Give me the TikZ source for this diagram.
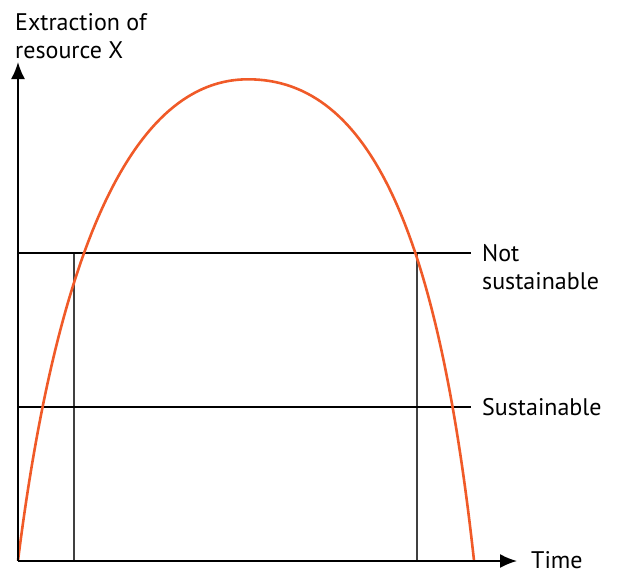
\documentclass[tikz,border=0pt]{standalone}
\usepackage{fontspec}
\setmainfont{PT Sans}
\usepackage{tikz}
\usetikzlibrary{arrows.meta}
\definecolor{curveorange}{RGB}{240,90,40}
\tikzset{axis/.style={line width=1.8pt, -{Latex[length=17pt, width=14pt]}}}
\tikzset{level/.style={line width=1.6pt}}
\tikzset{drop/.style={line width=1.2pt, black!75}}
\tikzset{lbl/.style={font=\fontsize{24}{27.3}\selectfont, inner sep=0pt, align=left}}
\tikzset{demand/.style={line width=2.6pt, curveorange}}

\begin{document}
\begin{tikzpicture}[x=1pt, y=-1pt]
    \useasboundingbox (0,0) rectangle (618,570);

    \coordinate (O) at (18,561);
    \coordinate (ytop) at (18,62);
    \coordinate (xend) at (517,561);

    \coordinate (ns0) at (18,253);
    \coordinate (nsE) at (471,253);
    \coordinate (s0) at (18,407);
    \coordinate (sE) at (471,407);

    \coordinate (dropLt) at (74,253);
    \coordinate (dropLb) at (74,561);
    \coordinate (dropRt) at (417,253);
    \coordinate (dropRb) at (417,561);

    \coordinate (peak) at (248,79.3);
    \coordinate (end) at (474,560.5);

    \node [lbl, anchor = north west] (ylab) at (15,13.7) {Extraction of\\resource X};
    \node [lbl, anchor = base west] (xlab) at (531,568.5) {Time};
    \node [lbl, anchor = north west] (nslab) at (482,244.5) {Not\\sustainable};
    \node [lbl, anchor = base west] (slab) at (482,415) {Sustainable};

    \draw [drop] (dropLt) -- (dropLb);
    \draw [drop] (dropRt) -- (dropRb);

    \draw [level] (ns0) -- (nsE);
    \draw [level] (s0) -- (sE);

    \draw [demand] (18,560.5) .. controls (58,243) and (135,79.3) .. (peak)
        .. controls (370,79.3) and (438,232) .. (end);

    \draw [axis] (O) -- (ytop);
    \draw [axis] (O) -- (xend);
\end{tikzpicture}
\end{document}
